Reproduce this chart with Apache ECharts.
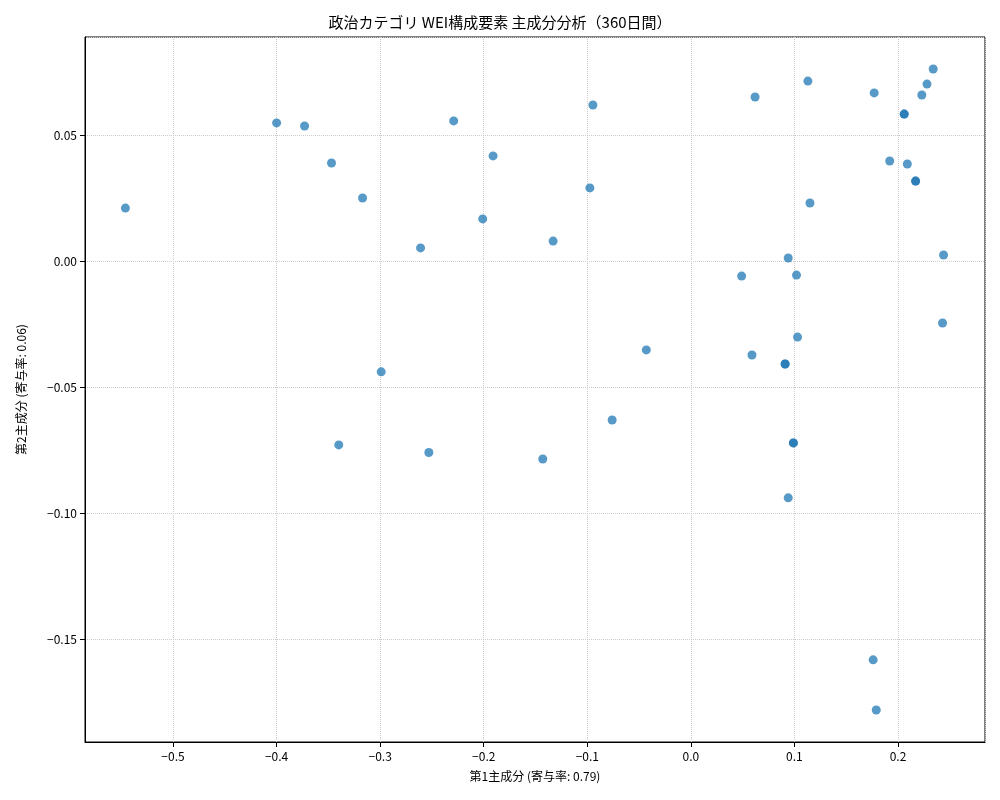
<!DOCTYPE html>
<html><head><meta charset="utf-8">
<script src="https://cdn.jsdelivr.net/npm/echarts@6/dist/echarts.min.js"></script>
<style>html,body{margin:0;padding:0;background:#fff}#c{width:1000px;height:800px}</style>
</head><body><div id="c"></div>
<script>
const pc1 = [-0.546,-0.400,-0.373,-0.347,-0.317,-0.261,-0.229,-0.201,-0.191,-0.133,-0.0975,-0.0946,-0.299,-0.340,-0.253,-0.143,-0.076,-0.043,0.049,0.059,0.062,0.091,0.091,0.094,0.102,0.103,0.099,0.099,0.094,0.113,0.115,0.177,0.192,0.206,0.206,0.209,0.217,0.217,0.223,0.228,0.234,0.244,0.243,0.176,0.179];
const pc2 = [0.021,0.0548,0.0536,0.0389,0.025,0.0052,0.0556,0.0167,0.0417,0.0079,0.029,0.0619,-0.044,-0.073,-0.076,-0.0786,-0.0631,-0.0353,-0.006,-0.0373,0.0651,-0.0409,-0.0409,0.0012,-0.0056,-0.0302,-0.0722,-0.0722,-0.094,0.0714,0.023,0.0667,0.0397,0.0583,0.0583,0.0385,0.0317,0.0317,0.0659,0.0702,0.0762,0.0024,-0.0246,-0.1583,-0.1782];
const data = pc1.map((x,i)=>[x,pc2[i]]);
const F = '"Noto Sans CJK JP", "Noto Sans", sans-serif';
function fmt(v,step,dec){const r=Math.round(v/step);if(Math.abs(v/step-r)>1e-6)return '';const s=(r*step).toFixed(dec);return s.startsWith('-')?'\u2212'+s.slice(1):s;}
const chart = echarts.init(document.getElementById('c'));
chart.setOption({
  animation:false,
  title:{text:'政治カテゴリ WEI構成要素 主成分分析（360日間）',left:'center',top:10,textStyle:{fontFamily:F,fontSize:15,fontWeight:'normal',color:'#000'}},
  grid:{left:85,right:15,top:37,bottom:58,show:true,borderColor:'#000',borderWidth:1},
  xAxis:{type:'value',min:-0.585,max:0.284,splitNumber:8,name:'第1主成分 (寄与率: 0.79)',nameLocation:'middle',nameGap:28,
    nameTextStyle:{fontFamily:F,fontSize:12,color:'#000'},
    axisLine:{show:true,onZero:false,lineStyle:{color:'#000'}},axisTick:{show:true,lineStyle:{color:'#000'}},
    axisLabel:{fontFamily:F,fontSize:12,color:'#000',formatter:v=>fmt(v,0.1,1),showMinLabel:false,showMaxLabel:false},
    splitLine:{show:true,lineStyle:{color:'#ccc',type:'dotted'}}},
  yAxis:{type:'value',min:-0.1909,max:0.0889,splitNumber:5,name:'第2主成分 (寄与率: 0.06)',nameLocation:'middle',nameGap:58,
    nameTextStyle:{fontFamily:F,fontSize:12,color:'#000'},
    axisLine:{show:true,onZero:false,lineStyle:{color:'#000'}},axisTick:{show:true,lineStyle:{color:'#000'}},
    axisLabel:{fontFamily:F,fontSize:12,color:'#000',formatter:v=>fmt(v,0.05,2),showMinLabel:false,showMaxLabel:false},
    splitLine:{show:true,lineStyle:{color:'#ccc',type:'dotted'}}},
  series:[{type:'scatter',data:data,symbolSize:9,itemStyle:{color:'#1f77b4',opacity:0.75}}]
});
</script></body></html>
